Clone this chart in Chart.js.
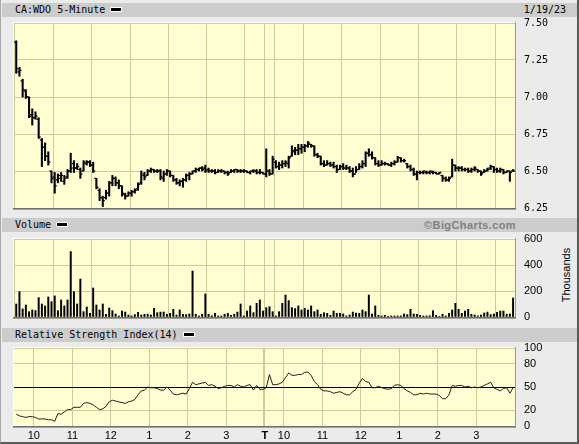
<!DOCTYPE html>
<html><head><meta charset="utf-8">
<script src="https://cdn.jsdelivr.net/npm/chart.js@4.4.1/dist/chart.umd.min.js"></script>
<style>
html,body{margin:0;padding:0;}
body{width:579px;height:444px;position:relative;overflow:hidden;background:#ebebeb;}
.frame{position:absolute;left:0;top:0;width:576px;height:442px;border-left:1px solid #a8a8a8;border-right:2px solid #5a5a5a;border-bottom:2px solid #5a5a5a;}
.hdr{position:absolute;left:2px;width:575px;height:14px;background:#cccccc;font:10px "DejaVu Sans Mono",monospace;line-height:14px;color:#000;white-space:nowrap;}
.hdr .t{position:absolute;left:13px;top:0;}
.dash{display:inline-block;width:10px;height:3px;background:#000;border:1px solid #fff;margin-left:5px;vertical-align:1px;}
.hdr .r{position:absolute;right:11px;top:0;}
.hdr .bc{position:absolute;right:61px;top:0;font:bold 11px "Liberation Sans",Arial,sans-serif;letter-spacing:0.4px;color:#808080;line-height:14px;}
canvas{position:absolute;left:0;top:0;}
.thou{position:absolute;left:566px;top:275px;transform:translate(-50%,-50%) rotate(-90deg);font:11px "Liberation Sans",Arial,sans-serif;color:#000;white-space:nowrap;}
</style>
</head><body>
<div class="frame"></div>
<div class="hdr" style="top:3px"><span class="t">CA:WDO 5-Minute<span class="dash"></span></span><span class="r">1/19/23</span></div>
<div class="hdr" style="top:218px"><span class="t">Volume<span class="dash"></span></span><span class="bc">©BigCharts.com</span></div>
<div class="hdr" style="top:328px"><span class="t">Relative Strength Index(14)<span class="dash"></span></span></div>
<div class="thou">Thousands</div>
<canvas id="cp" width="579" height="444"></canvas>
<canvas id="cv" width="579" height="444"></canvas>
<canvas id="cr" width="579" height="444"></canvas>
<script>
// ---- DATA (5-minute bars, two sessions of 78 bars) ----
const openPrices = [
7.37,7.17,7.11,7.04,7.00,6.88,6.86,6.85,6.71,6.66,
6.60,6.50,6.46,6.44,6.45,6.43,6.46,6.50,6.55,6.52,
6.51,6.50,6.55,6.56,6.54,6.45,6.37,6.32,6.32,6.35,
6.42,6.45,6.42,6.40,6.34,6.33,6.35,6.36,6.38,6.42,
6.47,6.47,6.50,6.51,6.50,6.50,6.45,6.48,6.50,6.47,
6.44,6.42,6.43,6.44,6.47,6.48,6.50,6.51,6.52,6.52,
6.51,6.50,6.50,6.49,6.50,6.50,6.49,6.49,6.50,6.51,
6.50,6.50,6.50,6.49,6.50,6.50,6.49,6.49,
6.48,6.50,6.48,6.56,6.53,6.54,6.55,6.55,6.60,6.63,
6.64,6.65,6.66,6.67,6.68,6.67,6.61,6.60,6.55,6.54,
6.55,6.54,6.53,6.51,6.53,6.52,6.52,6.50,6.48,6.51,
6.53,6.55,6.62,6.61,6.59,6.55,6.54,6.55,6.55,6.54,
6.55,6.56,6.59,6.57,6.55,6.53,6.51,6.48,6.49,6.49,
6.49,6.49,6.49,6.49,6.48,6.47,6.45,6.44,6.46,6.54,
6.52,6.52,6.51,6.51,6.50,6.51,6.51,6.50,6.49,6.50,
6.52,6.53,6.51,6.50,6.51,6.49,6.50,6.50];
const highPrices = [
7.38,7.20,7.12,7.05,7.00,6.92,6.90,6.86,6.72,6.69,
6.63,6.50,6.49,6.48,6.49,6.47,6.51,6.62,6.57,6.55,
6.52,6.57,6.57,6.57,6.56,6.45,6.38,6.33,6.37,6.43,
6.47,6.46,6.44,6.40,6.35,6.36,6.37,6.38,6.42,6.50,
6.49,6.51,6.52,6.51,6.51,6.51,6.50,6.51,6.50,6.47,
6.45,6.44,6.45,6.48,6.49,6.50,6.52,6.52,6.53,6.54,
6.52,6.51,6.51,6.51,6.51,6.50,6.50,6.51,6.51,6.51,
6.51,6.51,6.50,6.50,6.51,6.51,6.51,6.49,
6.65,6.51,6.60,6.57,6.56,6.57,6.57,6.60,6.67,6.66,
6.68,6.68,6.68,6.70,6.68,6.67,6.62,6.60,6.57,6.57,
6.56,6.56,6.54,6.54,6.55,6.54,6.53,6.52,6.53,6.55,
6.57,6.63,6.65,6.63,6.59,6.57,6.57,6.56,6.55,6.56,
6.57,6.60,6.59,6.58,6.55,6.54,6.52,6.50,6.50,6.50,
6.50,6.50,6.50,6.49,6.49,6.47,6.46,6.46,6.58,6.54,
6.53,6.53,6.52,6.52,6.52,6.53,6.51,6.50,6.51,6.52,
6.54,6.53,6.52,6.52,6.51,6.50,6.50,6.51];
const lowPrices = [
7.16,7.14,7.00,6.99,6.86,6.81,6.85,6.72,6.53,6.57,
6.54,6.42,6.35,6.42,6.43,6.41,6.45,6.49,6.49,6.51,
6.45,6.50,6.54,6.53,6.49,6.38,6.30,6.26,6.31,6.33,
6.40,6.40,6.38,6.33,6.31,6.33,6.33,6.35,6.37,6.41,
6.44,6.47,6.49,6.49,6.49,6.44,6.43,6.47,6.46,6.43,
6.41,6.40,6.39,6.43,6.44,6.48,6.49,6.50,6.50,6.49,
6.49,6.49,6.48,6.49,6.49,6.48,6.47,6.49,6.49,6.49,
6.49,6.49,6.49,6.48,6.49,6.48,6.48,6.48,
6.46,6.47,6.48,6.52,6.51,6.52,6.53,6.52,6.60,6.61,
6.61,6.62,6.63,6.66,6.66,6.60,6.59,6.54,6.53,6.54,
6.53,6.52,6.49,6.51,6.51,6.51,6.49,6.46,6.49,6.51,
6.52,6.53,6.60,6.58,6.54,6.53,6.54,6.54,6.54,6.53,
6.54,6.56,6.56,6.56,6.52,6.50,6.47,6.44,6.48,6.48,
6.48,6.48,6.48,6.48,6.48,6.43,6.43,6.43,6.46,6.50,
6.50,6.50,6.50,6.49,6.49,6.50,6.49,6.47,6.49,6.50,
6.51,6.49,6.49,6.49,6.48,6.49,6.43,6.50];
const closePrices = [
7.19,7.18,7.05,7.00,6.87,6.86,6.87,6.73,6.66,6.60,
6.56,6.45,6.40,6.47,6.47,6.45,6.50,6.52,6.52,6.53,
6.48,6.56,6.56,6.54,6.50,6.39,6.32,6.30,6.35,6.42,
6.45,6.42,6.40,6.35,6.33,6.35,6.36,6.37,6.41,6.48,
6.46,6.50,6.51,6.50,6.50,6.46,6.48,6.50,6.47,6.44,
6.42,6.43,6.44,6.47,6.48,6.50,6.51,6.52,6.51,6.50,
6.50,6.50,6.49,6.50,6.50,6.49,6.48,6.50,6.51,6.50,
6.50,6.50,6.49,6.50,6.50,6.49,6.49,6.48,
6.50,6.48,6.58,6.53,6.54,6.55,6.56,6.59,6.64,6.64,
6.65,6.66,6.67,6.69,6.67,6.61,6.60,6.55,6.54,6.55,
6.54,6.53,6.51,6.53,6.52,6.52,6.50,6.48,6.51,6.53,
6.55,6.62,6.61,6.59,6.55,6.54,6.55,6.55,6.54,6.55,
6.56,6.59,6.57,6.57,6.53,6.51,6.48,6.49,6.49,6.50,
6.49,6.50,6.49,6.48,6.49,6.45,6.44,6.45,6.54,6.52,
6.52,6.51,6.51,6.50,6.51,6.52,6.50,6.48,6.50,6.51,
6.53,6.51,6.50,6.51,6.49,6.50,6.49,6.50];
// volume in thousands
const volumes = [
100,195,62,92,41,54,49,149,100,85,
154,118,162,49,131,85,131,503,195,100,
292,41,77,28,223,92,54,100,21,69,
49,23,8,46,38,15,8,18,36,15,
21,21,15,67,33,38,38,21,28,59,
15,54,21,18,23,354,21,8,21,177,
21,10,28,8,8,21,28,12,21,38,
100,8,46,85,33,105,131,46,
72,79,41,8,41,105,169,126,72,65,
85,54,67,54,85,41,54,21,33,28,
13,46,28,28,23,8,15,38,31,28,
54,41,169,23,85,13,8,13,3,8,
8,8,8,23,18,59,23,21,13,8,
8,10,49,13,5,21,8,28,54,105,
59,28,46,59,21,15,8,15,31,38,
18,23,36,46,46,21,23,146];
const rsiValues = [
15,13,12,11,12,12,11,9,9,9,
8,8,6,16,15,18,21,21,24,24,
24,29,30,29,27,24,21,22,25,31,
33,32,31,30,29,31,32,34,40,45,
46,50,49,49,48,46,46,50,46,41,
40,41,42,41,48,56,53,54,55,56,
52,53,51,48,49,51,52,52,50,53,
51,50,52,53,46,52,47,47,
49,66,53,53,54,56,62,68,65,65,
66,66,69,69,65,57,53,47,45,45,
44,42,43,44,42,40,40,44,47,55,
61,57,56,49,49,51,49,48,47,48,
52,53,52,48,45,43,40,40,42,41,
42,41,41,41,39,35,35,40,52,51,
52,52,50,51,49,50,49,50,52,54,
56,49,47,45,48,49,42,49];
// time axis: bar index of hour marks (session boundary drawn as a double line)
const xTickBars   = [5.5,17.5,29.5,41.5,53.5,65.5,77.0,77.6,83.5,95.5,107.5,119.5,131.5,143.5];
const xTickLabels = ['10','11','12','1','2','3','','T','10','11','12','1','2','3'];
const priceTicks  = [6.25,6.50,6.75,7.00,7.25,7.50];
const volumeTicks = [0,200,400,600];
const rsiTicks    = [0,20,50,80,100];

// ---- STYLE ----
const GRID = '#cccc99';
const PLOT_BG = '#fefed2';
const SANS = '"Liberation Sans", Arial, sans-serif';
const MONO = '"DejaVu Sans Mono", monospace';

const panelPlugin = {
  id: 'panel',
  beforeDraw(chart) {
    const {ctx, chartArea: a} = chart;
    ctx.save();
    ctx.fillStyle = PLOT_BG;
    ctx.fillRect(a.left, a.top, a.right - a.left, a.bottom - a.top);
    ctx.restore();
  },
  afterDraw(chart) {
    const {ctx, chartArea: a} = chart;
    ctx.save();
    ctx.fillStyle = '#ffffff';
    ctx.fillRect(a.left - 1, a.top - 1, a.right - a.left + 1, 1);
    ctx.fillRect(a.left - 1, a.top - 1, 1, a.bottom - a.top + 1);
    ctx.fillStyle = '#707070';
    ctx.fillRect(a.left - 1, a.bottom, a.right - a.left + 2, 1);
    ctx.fillStyle = '#a0a0a0';
    ctx.fillRect(a.left - 1, a.bottom + 1, a.right - a.left + 2, 1);
    ctx.fillStyle = '#9a9a9a';
    ctx.fillRect(a.right, a.top - 1, 1, a.bottom - a.top + 1);
    ctx.restore();
  }
};

function xScale(showLabels) {
  return {
    type: 'linear', min: -0.7, max: 155.6, offset: false,
    afterBuildTicks(s) { s.ticks = xTickBars.map(v => ({value: v})); },
    ticks: {
      display: showLabels, autoSkip: false, maxRotation: 0, minRotation: 0, padding: 3,
      color: '#000',
      font: (c) => ({family: SANS, size: 11, weight: (c.index === 7) ? 'bold' : 'normal'}),
      callback: (v, i) => xTickLabels[i]
    },
    grid: {color: GRID, drawTicks: false, lineWidth: 1},
    border: {display: false},
    afterFit(s) { s.height = showLabels ? 18 : 0; }
  };
}
function yScale(min, max, ticksArr, font, fmt, gridColor) {
  return {
    position: 'right', min, max,
    afterBuildTicks(s) { s.ticks = ticksArr.map(v => ({value: v})); },
    ticks: {padding: 9, color: '#000', font, callback: fmt, autoSkip: false},
    grid: {color: gridColor || GRID, drawTicks: false, lineWidth: 1},
    border: {display: false},
    afterFit(s) { s.width = 64; }
  };
}
const common = {
  responsive: false, animation: false, events: [],
  plugins: {legend: {display: false}, tooltip: {enabled: false}}
};

// Price chart (OHLC bars)
new Chart(document.getElementById('cp'), {
  type: 'bar',
  data: {datasets: [
    {type: 'bar', data: highPrices.map((h, i) => ({x: i, y: [lowPrices[i], h]})),
     backgroundColor: '#000', borderWidth: 0, barThickness: 1.4, grouped: false},
    {type: 'line', showLine: false, data: openPrices.map((o, i) => ({x: i - 0.32, y: o})),
     pointStyle: 'line', pointRadius: 1, pointBorderWidth: 1.3, pointBorderColor: '#000', pointBackgroundColor: '#000'},
    {type: 'line', showLine: false, data: closePrices.map((c, i) => ({x: i + 0.32, y: c})),
     pointStyle: 'line', pointRadius: 1, pointBorderWidth: 1.3, pointBorderColor: '#000', pointBackgroundColor: '#000'}
  ]},
  options: Object.assign({}, common, {
    layout: {padding: {left: 14, top: 23, right: 0, bottom: 236}},
    scales: {
      x: xScale(false),
      y: yScale(6.25, 7.5, priceTicks, {family: MONO, size: 10}, v => v.toFixed(2))
    }
  }),
  plugins: [panelPlugin]
});

// Volume chart
new Chart(document.getElementById('cv'), {
  type: 'bar',
  data: {datasets: [
    {data: volumes.map((v, i) => ({x: i, y: v})), backgroundColor: '#000', borderWidth: 0, barThickness: 1.3}
  ]},
  options: Object.assign({}, common, {
    layout: {padding: {left: 14, top: 239, right: 0, bottom: 127}},
    scales: {
      x: xScale(false),
      y: yScale(0, 600, volumeTicks, {family: SANS, size: 11}, v => String(v))
    }
  }),
  plugins: [panelPlugin]
});

// RSI chart
new Chart(document.getElementById('cr'), {
  type: 'line',
  data: {datasets: [
    {data: rsiValues.map((v, i) => ({x: i, y: v})), borderColor: '#222', borderWidth: 1,
     pointRadius: 0, tension: 0, fill: false}
  ]},
  options: Object.assign({}, common, {
    layout: {padding: {left: 14, top: 348, right: 0, bottom: 0}},
    scales: {
      x: xScale(true),
      y: yScale(0, 100, rsiTicks, {family: SANS, size: 11}, v => String(v),
        (c) => (c.tick && c.tick.value === 50) ? '#000' : GRID)
    }
  }),
  plugins: [panelPlugin]
});
</script>
</body></html>
